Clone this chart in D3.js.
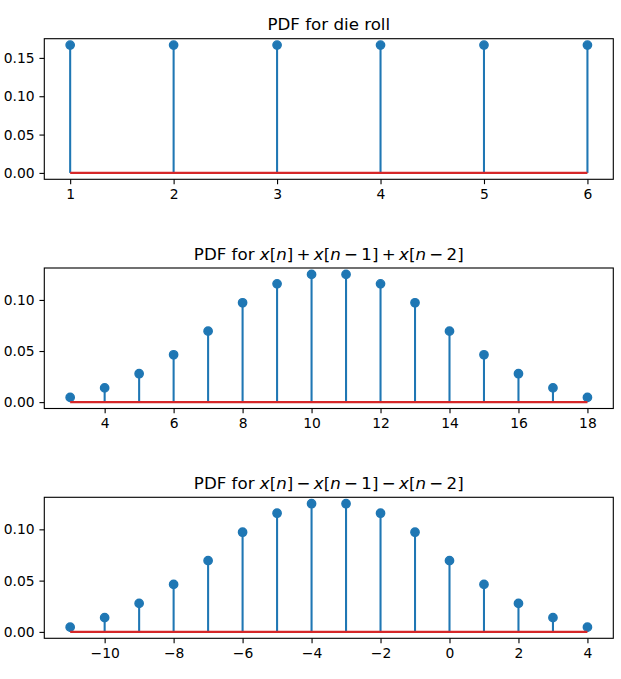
<!DOCTYPE html>
<html><head><meta charset="utf-8">
<script src="https://cdn.jsdelivr.net/npm/d3@7"></script>
<style>body{margin:0;background:#fff}svg{display:block}</style>
</head><body>
<script>
// ---- data ----
const dieX = [1, 2, 3, 4, 5, 6];
const dieY = [0.1667, 0.1667, 0.1667, 0.1667, 0.1667, 0.1667];
const sumX = [3, 4, 5, 6, 7, 8, 9, 10, 11, 12, 13, 14, 15, 16, 17, 18];
const sumY = [0.00463, 0.01389, 0.02778, 0.04630, 0.06944, 0.09722, 0.11574, 0.12500,
              0.12500, 0.11574, 0.09722, 0.06944, 0.04630, 0.02778, 0.01389, 0.00463];
const diffX = [-11, -10, -9, -8, -7, -6, -5, -4, -3, -2, -1, 0, 1, 2, 3, 4];
const diffY = [0.00463, 0.01389, 0.02778, 0.04630, 0.06944, 0.09722, 0.11574, 0.12500,
               0.12500, 0.11574, 0.09722, 0.06944, 0.04630, 0.02778, 0.01389, 0.00463];
const dieXTicks = [1, 2, 3, 4, 5, 6];
const dieYTicks = [0.00, 0.05, 0.10, 0.15];
const sumXTicks = [4, 6, 8, 10, 12, 14, 16, 18];
const sumYTicks = [0.00, 0.05, 0.10];
const diffXTicks = [-10, -8, -6, -4, -2, 0, 2, 4];
const diffYTicks = [0.00, 0.05, 0.10];
// title segments: [text, italic]
const titles = [
  [["PDF for die roll", false]],
  [["PDF for ", false], ["x", true], ["[", false], ["n", true], ["]\u2009+\u2009", false], ["x", true], ["[", false], ["n", true], ["\u2009\u2212\u20091]\u2009+\u2009", false], ["x", true], ["[", false], ["n", true], ["\u2009\u2212\u20092]", false]],
  [["PDF for ", false], ["x", true], ["[", false], ["n", true], ["]\u2009\u2212\u2009", false], ["x", true], ["[", false], ["n", true], ["\u2009\u2212\u20091]\u2009\u2212\u2009", false], ["x", true], ["[", false], ["n", true], ["\u2009\u2212\u20092]", false]]
];

const W = 621, H = 679;
const svg = d3.select("body").append("svg").attr("width", W).attr("height", H)
  .style("font-family", "DejaVu Sans");

const panels = [
  {x: dieX, y: dieY, xt: dieXTicks, yt: dieYTicks, top: 38.7, bottom: 179.3, title: titles[0]},
  {x: sumX, y: sumY, xt: sumXTicks, yt: sumYTicks, top: 268.0, bottom: 408.5, title: titles[1]},
  {x: diffX, y: diffY, xt: diffXTicks, yt: diffYTicks, top: 497.3, bottom: 638.3, title: titles[2]}
];
const left = 44.3, right = 613.3;
const fmtY = d3.format(".2f");
const fmtX = d => String(d).replace("-", "\u2212");

panels.forEach(p => {
  const xmin = d3.min(p.x), xmax = d3.max(p.x);
  const dx = (xmax - xmin) * 0.05;
  const ymax = d3.max(p.y), dy = ymax * 0.05;
  const xs = d3.scaleLinear().domain([xmin - dx, xmax + dx]).range([left, right]);
  const ys = d3.scaleLinear().domain([-dy, ymax + dy]).range([p.bottom, p.top]);
  const g = svg.append("g");
  const pts = p.x.map((v, i) => ({x: v, y: p.y[i]}));

  // stems
  g.selectAll("line.stem").data(pts).enter().append("line")
    .attr("x1", d => xs(d.x)).attr("x2", d => xs(d.x))
    .attr("y1", ys(0)).attr("y2", d => ys(d.y))
    .attr("stroke", "#1f77b4").attr("stroke-width", 2.08);
  // markers
  g.selectAll("circle").data(pts).enter().append("circle")
    .attr("cx", d => xs(d.x)).attr("cy", d => ys(d.y)).attr("r", 4.17)
    .attr("fill", "#1f77b4").attr("stroke", "#1f77b4").attr("stroke-width", 1.39);
  // baseline
  g.append("line").attr("x1", xs(xmin)).attr("x2", xs(xmax))
    .attr("y1", ys(0)).attr("y2", ys(0))
    .attr("stroke", "#d62728").attr("stroke-width", 2.08);

  // axes
  const xa = g.append("g").attr("transform", `translate(0,${p.bottom})`)
    .call(d3.axisBottom(xs).tickValues(p.xt).tickFormat(fmtX).tickSize(4.86).tickPadding(4.86).tickSizeOuter(0));
  const ya = g.append("g").attr("transform", `translate(${left},0)`)
    .call(d3.axisLeft(ys).tickValues(p.yt).tickFormat(fmtY).tickSize(4.86).tickPadding(4.86).tickSizeOuter(0));
  [xa, ya].forEach(a => {
    a.select(".domain").remove();
    a.selectAll("text").attr("font-family", "DejaVu Sans").attr("font-size", 13.89).attr("fill", "#000");
    a.selectAll("line").attr("stroke", "#000").attr("stroke-width", 1.11);
  });
  // spines
  g.append("rect").attr("x", left).attr("y", p.top).attr("width", right - left).attr("height", p.bottom - p.top)
    .attr("fill", "none").attr("stroke", "#000").attr("stroke-width", 1.11);

  // title
  const t = g.append("text").attr("x", (left + right) / 2).attr("y", p.top - 8.33)
    .attr("text-anchor", "middle").attr("font-size", 16.67).attr("fill", "#000");
  p.title.forEach(([s, it]) => {
    t.append("tspan").text(s).attr("font-style", it ? "italic" : "normal");
  });
});
</script>
</body></html>
